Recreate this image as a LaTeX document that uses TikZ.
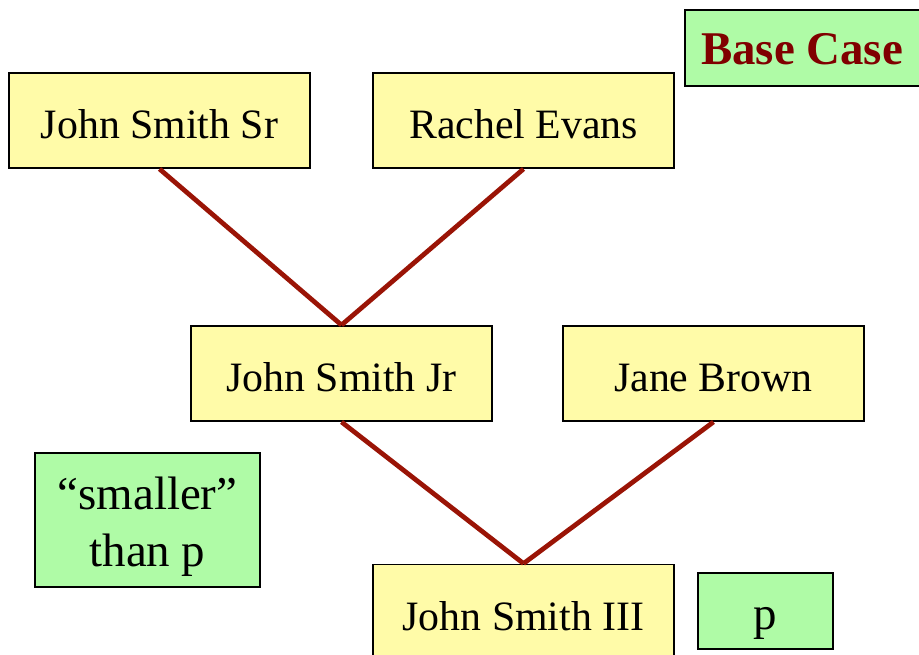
\documentclass[tikz,border=0pt]{standalone}
\usepackage{fontspec}
\setmainfont{Liberation Serif}
\usepackage{xcolor}
\usetikzlibrary{positioning}
\definecolor{paleyellow}{HTML}{FFFBA8}
\definecolor{palegreen}{HTML}{AFFBA6}
\definecolor{maroon}{HTML}{800000}
\definecolor{linkred}{HTML}{9A1406}
\tikzset{
  personbox/.style={
    rectangle, draw=black, fill=paleyellow, line width=1.1pt,
    minimum width=6.02cm, minimum height=1.9cm,
    font=\fontsize{23.8}{28}\selectfont, align=center,
    text height=0.74cm, text depth=0pt, inner sep=0pt
  },
  notebox/.style={
    rectangle, draw=black, fill=palegreen, line width=1.1pt,
    font=\fontsize{26.7}{32.4}\selectfont, align=center,
    inner sep=0pt
  },
  parentlink/.style={
    line width=2.7pt, color=linkred
  },
}

\begin{document}
\begin{tikzpicture}[x=0.02cm, y=-0.02cm]
  \clip (0,0) rectangle (919,655);
  \useasboundingbox (0,0) rectangle (919,655);
  % grandparents
  \node[personbox] at (159.5,120.5) (sr) {John Smith Sr};
  \node[personbox] at (523.5,120.5) (rachel) {Rachel Evans};
  % parents
  \node[personbox] at (341.5,373.5) (jr) {John Smith Jr};
  \node[personbox] at (713.5,373.5) (jane) {Jane Brown};
  % child
  \node[personbox] at (523.5,612) (third) {John Smith III};
  % notes
  \node[notebox, minimum width=4.7cm, minimum height=1.52cm,
        font=\fontsize{26.7}{30}\selectfont\bfseries, text=maroon,
        text height=0.68cm, text depth=0pt]
        at (802,48) (base) {Base Case};
  \node[notebox, minimum width=4.5cm, minimum height=2.68cm] at (147.5,520) (smaller)
        {\rule{0pt}{0.74cm}“smaller”\\than \smash{p}};
  \node[notebox, minimum width=2.7cm, minimum height=1.52cm,
        text height=0.92cm, text depth=0.2cm] at (765.5,611) (p) {p};
  % links
  \draw[parentlink] (sr.south) -- (jr.north);
  \draw[parentlink] (rachel.south) -- (jr.north);
  \draw[parentlink] (jr.south) -- (third.north);
  \draw[parentlink] (jane.south) -- (third.north);
\end{tikzpicture}
\end{document}
